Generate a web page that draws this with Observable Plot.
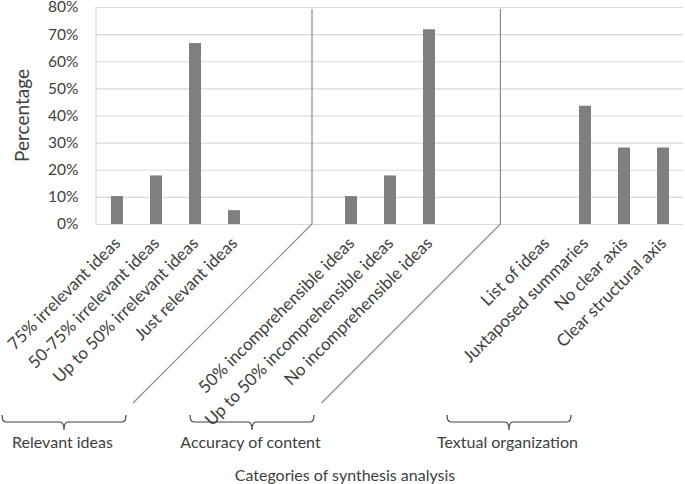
<!DOCTYPE html>
<html>
<head>
<meta charset="utf-8">
<script src="https://cdn.jsdelivr.net/npm/d3@7"></script>
<script src="https://cdn.jsdelivr.net/npm/@observablehq/plot@0.6"></script>
<style>
  html, body { margin: 0; padding: 0; background: #fff; }
  #chart { width: 685px; height: 484px; }
</style>
</head>
<body>
<div id="chart"></div>
<script>
// ---- data ----
const categories = [
  "75% irrelevant ideas", "50-75% irrelevant ideas", "Up to 50% irrelevant ideas", "Just relevant ideas", "", "",
  "50% incomprehensible ideas", "Up to 50% incomprehensible ideas", "No incomprehensible ideas", "", "",
  "List of ideas", "Juxtaposed summaries", "No clear axis", "Clear structural axis"
];
const values = [
  0.103, 0.179, 0.667, 0.051, null, null,
  0.103, 0.179, 0.718, null, null,
  0, 0.436, 0.282, 0.282
];
const yTicks = [0, 0.1, 0.2, 0.3, 0.4, 0.5, 0.6, 0.7, 0.8];
const separators = [5, 10];
const groups = ["Relevant ideas", "Accuracy of content", "Textual organization"];
const yTitle = "Percentage";
const xTitle = "Categories of synthesis analysis";

// ---- build ----
const idx = d3.range(categories.length);
const rows = idx.filter(i => values[i] != null).map(i => ({i, v: values[i]}));
const font = "Lato, 'Open Sans', sans-serif";
const textColor = "#404040";

const plot = Plot.plot({
  width: 685,
  height: 484,
  marginLeft: 96,
  marginRight: 2,
  marginTop: 7,
  marginBottom: 260,
  style: {fontFamily: font, fontSize: "15px", color: textColor, background: "#fff", overflow: "visible"},
  x: {type: "band", domain: idx, paddingInner: 0.7, paddingOuter: 0.35},
  y: {domain: [0, 0.8]},
  marks: [
    Plot.gridY(yTicks, {stroke: "#d9d9d9", strokeOpacity: 1, strokeWidth: 1.2}),
    Plot.barY(rows, {x: "i", y: "v", fill: "#7f7f7f"}),
    Plot.axisY({ticks: yTicks, tickFormat: d3.format(".0%"), tickSize: 0, tickPadding: 18, label: null, fontSize: 15.5}),
    Plot.axisX({tickRotate: -45, tickSize: 0, tickPadding: 16, tickFormat: i => categories[i], label: null, fontSize: 17})
  ]
});

document.getElementById("chart").appendChild(plot);

// ---- annotations (separators, group brackets, axis titles) ----
const svg = d3.select(plot);
const xs = plot.scale("x");
const ys = plot.scale("y");
const y0 = ys.apply(0), yTop = ys.apply(0.8);
const ml = 96;
const sepShift = [0, -6.6];
const diagBottom = 403;

// left axis line
svg.append("line").attr("x1", ml).attr("x2", ml).attr("y1", yTop).attr("y2", y0)
  .attr("stroke", "#d9d9d9").attr("stroke-width", 1.2);

separators.forEach((s, k) => {
  const sx = xs.apply(s) + xs.bandwidth / 2 + sepShift[k];
  svg.append("path")
    .attr("d", `M${sx},${yTop + 2}L${sx},${y0}L${sx - (diagBottom - y0)},${diagBottom}`)
    .attr("fill", "none").attr("stroke", "#8c8c8c").attr("stroke-width", 1.2);
});

// y axis title
svg.append("text")
  .attr("transform", `translate(22,${(y0 + yTop) / 2}) rotate(-90)`)
  .attr("dy", "0.35em").attr("text-anchor", "middle").attr("fill", textColor)
  .style("font-family", font).style("font-size", "19px").text(yTitle);

const bracketCenters = [64, 252, 509];
const half = 62;
groups.forEach((g, k) => {
  const c = bracketCenters[k];
  const x0 = c - half, x1 = c + half;
  svg.append("path")
    .attr("d", `M${x0},415Q${x0},422 ${x0 + 4},422L${c - 4},422Q${c},422 ${c},430Q${c},422 ${c + 4},422L${x1 - 4},422Q${x1},422 ${x1},415`)
    .attr("fill", "none").attr("stroke", "#404040").attr("stroke-width", 1.2);
  svg.append("text").attr("x", c - 1.5).attr("y", 442).attr("dy", "0.35em")
    .attr("text-anchor", "middle").attr("fill", textColor)
    .style("font-family", font).style("font-size", "16px").text(g);
});

svg.append("text").attr("x", 345).attr("y", 475).attr("dy", "0.35em")
  .attr("text-anchor", "middle").attr("fill", textColor)
  .style("font-family", font).style("font-size", "16px").text(xTitle);
</script>
</body>
</html>
